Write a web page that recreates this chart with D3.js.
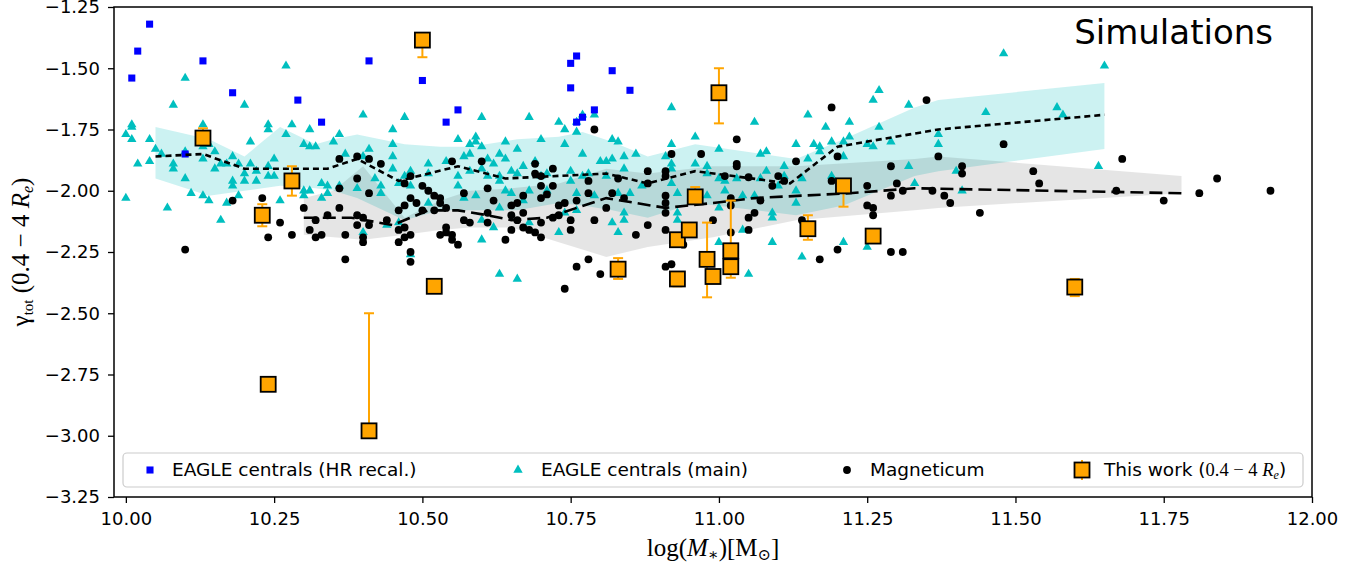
<!DOCTYPE html>
<meta charset="utf-8">
<style>
body { margin: 0; background: #fff; }
text { font-family: "DejaVu Sans", sans-serif; fill: #000; }
.tick text { font-size: 18px; }
.serif { font-family: "Liberation Serif", "DejaVu Serif", serif; }
</style>
<svg width="1365" height="570"></svg>
<script src="https://d3js.org/d3.v7.min.js"></script>
<script>

// EAGLE centrals, high-res recalibrated  [log M*, gamma]
var eagleHR = [[10.01,-1.54],[10.02,-1.43],[10.04,-1.32],[10.13,-1.47],[10.18,-1.60],[10.29,-1.63],[10.33,-1.72],
  [10.41,-1.47],[10.50,-1.55],[10.54,-1.72],[10.56,-1.67],[10.75,-1.48],[10.76,-1.45],[10.75,-1.58],[10.82,-1.51],
  [10.85,-1.59],[10.79,-1.67],[10.77,-1.70],[10.76,-1.72],[10.10,-1.85]];

// EAGLE centrals, main run
var eagleMain = [[10.27,-1.49],[10.10,-1.54],[10.08,-1.65],[10.20,-1.65],[10.01,-1.73],[10.01,-1.74],[10.00,-1.77],
  [10.01,-1.79],[10.04,-1.79],[10.13,-1.73],[10.24,-1.73],[10.24,-1.75],[10.28,-1.73],[10.27,-1.77],[10.30,-1.81],
  [10.31,-1.75],[10.31,-1.82],[10.21,-1.80],[10.05,-1.83],[10.06,-1.85],[10.10,-1.84],[10.13,-1.87],[10.15,-1.84],
  [10.02,-1.89],[10.04,-1.88],[10.08,-1.89],[10.08,-1.91],[10.15,-1.91],[10.16,-1.89],[10.17,-1.89],[10.18,-1.86],
  [10.19,-1.89],[10.20,-1.93],[10.21,-1.89],[10.22,-1.92],[10.25,-1.87],[10.24,-1.90],[10.24,-1.94],[10.25,-1.94],
  [10.22,-1.96],[10.20,-1.96],[10.18,-1.96],[10.18,-1.98],[10.10,-1.95],[10.11,-2.01],[10.13,-2.02],[10.14,-2.04],
  [10.17,-2.05],[10.19,-2.02],[10.26,-2.04],[10.30,-2.00],[10.31,-2.00],[10.30,-2.02],[10.00,-2.03],[10.07,-2.07],
  [10.16,-2.12],[10.13,-1.82],[10.14,-1.81],
  [10.40,-1.69],[10.47,-1.70],[10.45,-1.75],[10.60,-1.70],[10.36,-1.77],[10.35,-1.80],[10.32,-1.82],[10.37,-1.85],
  [10.41,-1.83],[10.45,-1.81],[10.45,-1.86],[10.45,-1.91],[10.48,-1.92],[10.51,-1.89],[10.51,-1.93],[10.47,-1.94],
  [10.48,-1.98],[10.46,-1.97],[10.43,-1.98],[10.43,-2.01],[10.39,-1.99],[10.36,-1.98],[10.34,-1.98],[10.33,-1.97],
  [10.34,-2.01],[10.33,-2.03],[10.42,-1.95],[10.40,-1.86],[10.56,-1.79],[10.59,-1.78],[10.59,-1.80],[10.58,-1.81],
  [10.60,-1.82],[10.64,-1.80],[10.57,-1.86],[10.58,-1.85],[10.56,-1.94],[10.58,-1.92],[10.60,-1.91],[10.61,-1.87],
  [10.63,-1.85],[10.62,-1.89],[10.64,-1.87],[10.65,-1.92],[10.63,-1.94],[10.63,-1.96],[10.61,-1.94],[10.56,-1.98],
  [10.57,-2.03],[10.59,-2.02],[10.64,-2.00],[10.65,-2.01],[10.63,-2.07],[10.62,-2.15],[10.60,-2.12],[10.60,-2.20],
  [10.63,-2.34],[10.54,-1.88],[10.51,-2.05],[10.46,-2.13],[10.44,-2.14],[10.40,-2.17],[10.48,-2.26],
  [10.68,-1.70],[10.73,-1.72],[10.74,-1.75],[10.76,-1.76],[10.77,-1.69],[10.79,-1.69],[10.76,-1.72],[10.70,-1.79],
  [10.74,-1.81],[10.66,-1.83],[10.77,-1.85],[10.82,-1.79],[10.83,-1.80],[10.92,-1.66],[10.96,-1.78],[10.92,-1.81],
  [10.86,-1.85],[10.84,-1.86],[10.80,-1.88],[10.81,-1.88],[10.82,-1.87],[10.84,-1.91],[10.81,-1.94],[10.78,-1.93],
  [10.77,-1.94],[10.75,-1.92],[10.75,-1.96],[10.71,-1.93],[10.67,-1.90],[10.66,-1.93],[10.69,-1.88],[10.92,-1.89],
  [10.91,-1.86],[10.92,-1.91],[10.96,-1.89],[10.98,-1.90],[10.98,-1.93],[10.92,-1.97],[10.93,-2.01],[10.98,-2.02],
  [10.87,-1.98],[10.85,-2.01],[10.83,-2.01],[10.76,-2.01],[10.79,-2.02],[10.76,-2.08],[10.74,-2.09],[10.84,-2.09],
  [10.82,-2.13],[10.84,-2.12],[10.83,-2.17],[10.73,-2.17],[10.68,-2.13],[10.67,-2.04],[10.93,-2.12],[10.93,-2.09],
  [10.66,-2.36],[10.68,-2.00],[10.71,-2.00],[10.70,-1.94],
  [11.06,-1.72],[11.15,-1.69],[11.18,-1.74],[11.22,-1.72],[11.27,-1.59],[11.26,-1.63],[11.32,-1.65],[11.27,-1.74],
  [11.22,-1.78],[11.19,-1.80],[11.16,-1.81],[11.13,-1.81],[11.17,-1.82],[11.17,-1.84],[11.21,-1.80],[11.21,-1.86],
  [11.25,-1.81],[11.26,-1.82],[11.29,-1.80],[11.00,-1.83],[11.07,-1.85],[11.08,-1.84],[11.15,-1.87],[11.11,-1.90],
  [11.08,-1.92],[11.07,-1.95],[11.01,-1.96],[11.00,-1.95],[11.03,-1.95],[11.11,-1.94],[11.10,-1.98],[11.14,-1.95],
  [11.19,-1.94],[11.32,-1.90],[11.01,-2.00],[11.04,-2.02],[11.06,-2.02],[11.13,-2.00],[11.13,-2.05],[11.00,-2.07],
  [11.09,-2.09],[11.09,-2.11],[11.04,-2.16],[11.00,-2.21],[11.09,-2.21],[11.14,-2.27],[11.21,-2.21],[11.25,-2.23],
  [11.05,-2.34],
  [11.48,-1.44],[11.65,-1.49],[11.45,-1.68],[11.57,-1.66],[11.58,-1.69],[11.37,-1.77],[11.37,-1.81],[11.64,-1.90],
  [11.40,-1.92],[11.33,-1.97],[11.41,-2.00]];

// Magneticum
var magneticum = [[10.10,-2.24],[10.18,-2.04],[10.23,-2.03],[10.26,-2.13],[10.24,-2.19],[10.28,-2.18],[10.30,-2.07],
  [10.31,-2.16],
  [10.36,-1.87],[10.39,-1.86],[10.41,-1.87],[10.43,-1.89],[10.39,-1.95],[10.36,-1.99],[10.41,-2.01],[10.47,-1.97],
  [10.48,-1.94],[10.50,-1.98],[10.51,-2.00],[10.52,-2.02],[10.53,-2.03],[10.53,-2.05],[10.48,-2.03],[10.46,-2.08],
  [10.47,-2.06],[10.49,-2.05],[10.50,-2.08],[10.52,-2.08],[10.54,-2.07],[10.55,-1.88],[10.60,-1.88],[10.61,-1.99],
  [10.62,-2.04],[10.57,-2.01],[10.65,-2.06],[10.65,-2.10],[10.61,-2.09],[10.61,-2.13],[10.57,-2.12],[10.58,-2.13],
  [10.32,-2.12],[10.34,-2.10],[10.36,-2.07],[10.39,-2.10],[10.40,-2.11],[10.39,-2.14],[10.41,-2.14],[10.44,-2.12],
  [10.46,-2.16],[10.47,-2.15],[10.46,-2.21],[10.47,-2.19],[10.48,-2.18],[10.40,-2.19],[10.40,-2.21],[10.37,-2.18],
  [10.32,-2.19],[10.33,-2.18],[10.37,-2.28],[10.48,-2.25],[10.48,-2.29],[10.54,-2.15],[10.54,-2.17],[10.53,-2.18],
  [10.55,-2.18],[10.55,-2.20],[10.56,-2.22],[10.64,-2.20],[10.65,-2.16],
  [10.79,-1.75],[10.92,-1.85],[10.97,-1.85],[10.69,-1.89],[10.69,-1.93],[10.72,-1.91],[10.70,-1.94],[10.70,-1.98],
  [10.72,-1.98],[10.78,-1.96],[10.83,-1.95],[10.88,-1.92],[10.91,-1.92],[10.91,-1.94],[10.88,-1.97],[10.91,-2.02],
  [10.78,-2.01],[10.82,-2.01],[10.84,-2.03],[10.76,-2.04],[10.74,-2.05],[10.73,-2.06],[10.71,-2.015],[10.70,-2.03],
  [10.67,-2.02],[10.66,-2.05],[10.67,-2.09],[10.66,-2.12],[10.67,-2.15],[10.68,-2.16],[10.69,-2.17],[10.70,-2.19],
  [10.70,-2.13],[10.72,-2.11],[10.73,-2.10],[10.75,-2.12],[10.75,-2.16],[10.79,-2.12],[10.81,-2.07],[10.91,-2.05],
  [10.91,-2.09],[10.88,-2.14],[10.91,-2.16],[10.86,-2.18],[10.76,-2.31],[10.78,-2.28],[10.80,-2.34],[10.74,-2.40],
  [10.91,-2.31],[10.92,-2.30],[10.94,-2.22],[10.99,-2.12],
  [11.19,-1.66],[11.03,-1.79],[11.03,-1.89],[11.03,-1.90],[11.13,-1.88],[11.20,-1.86],[11.29,-1.90],[11.01,-1.94],
  [11.05,-1.945],[11.10,-1.94],[11.11,-1.96],[11.09,-1.98],[11.19,-1.96],[11.25,-1.98],[11.30,-1.97],[11.31,-2.00],
  [11.29,-2.02],[11.02,-2.03],[11.02,-2.06],[11.07,-2.04],[11.06,-2.09],[11.05,-2.11],[11.05,-2.16],[11.14,-2.12],
  [11.25,-2.06],[11.26,-2.07],[11.26,-2.10],[11.02,-2.17],[11.17,-2.28],[11.20,-2.24],[11.29,-2.25],[11.31,-2.25],
  [11.35,-1.63],[11.48,-1.81],[11.37,-1.86],[11.41,-1.90],[11.41,-1.93],[11.53,-1.92],[11.54,-1.97],[11.36,-2.00],
  [11.38,-2.02],[11.39,-2.05],[11.44,-2.09],[11.67,-2.00],[11.68,-1.87],[11.75,-2.04],[11.81,-2.01],[11.84,-1.95],
  [11.93,-2.00]];

// EAGLE main: running median and 16-84 band
var eagleMedX = [10.05,10.13,10.20,10.26,10.34,10.39,10.46,10.56,10.64,10.81,10.88,10.96,11.12,11.20,11.37,11.65];
var eagleMedY = [-1.86,-1.85,-1.91,-1.91,-1.91,-1.87,-1.96,-1.90,-1.95,-1.93,-1.97,-1.92,-1.97,-1.82,-1.75,-1.69];
var eagleBandX  = [10.05,10.14,10.20,10.26,10.32,10.35,10.39,10.47,10.53,10.58,10.66,10.73,10.77,10.82,10.88,10.96,11.13,11.21,11.33,11.37,11.65];
var eagleBandHi = [-1.74,-1.79,-1.86,-1.74,-1.81,-1.79,-1.77,-1.81,-1.82,-1.82,-1.79,-1.78,-1.76,-1.80,-1.86,-1.81,-1.87,-1.79,-1.66,-1.63,-1.56];
var eagleBandLo = [-1.95,-2.02,-2.00,-1.98,-1.99,-2.00,-2.03,-2.12,-2.08,-2.08,-2.08,-2.05,-2.06,-2.08,-2.11,-2.05,-2.10,-2.06,-1.94,-1.92,-1.83];

// Magneticum: running median and 16-84 band
var magMedX = [10.30,10.38,10.45,10.51,10.56,10.61,10.65,10.71,10.81,10.91,10.99,11.06,11.22,11.33,11.78];
var magMedY = [-2.11,-2.11,-2.14,-2.08,-2.08,-2.10,-2.12,-2.11,-2.03,-2.07,-2.05,-2.03,-2.01,-1.99,-2.01];
var magBandX  = [10.30,10.35,10.40,10.47,10.53,10.58,10.65,10.73,10.81,10.88,10.99,11.13,11.33,11.37,11.78];
var magBandHi = [-2.03,-2.00,-1.90,-2.11,-2.04,-2.00,-1.99,-1.97,-1.91,-1.93,-1.90,-1.90,-1.87,-1.86,-1.94];
var magBandLo = [-2.18,-2.19,-2.20,-2.18,-2.16,-2.15,-2.15,-2.21,-2.27,-2.23,-2.19,-2.12,-2.08,-2.07,-2.01];

// This work (0.4 - 4 Re): value with lower / upper bound
var workX  = [10.13,10.23,10.28,10.24,10.41,10.50,10.52,10.83,10.93,10.93,10.95,10.96,11.00,10.98,10.99,11.02,11.02,11.21,11.15,11.26,11.60];
var workY  = [-1.785,-2.10,-1.96,-2.79,-2.98,-1.385,-2.39,-2.32,-2.36,-2.20,-2.16,-2.025,-1.60,-2.28,-2.35,-2.245,-2.31,-1.98,-2.155,-2.185,-2.393];
var workLo = [-1.80,-2.145,-2.02,-2.79,-2.98,-1.455,-2.41,-2.36,-2.39,-2.22,-2.18,-2.05,-1.725,-2.435,-2.37,-2.26,-2.355,-2.065,-2.20,-2.21,-2.43];
var workHi = [-1.745,-2.055,-1.90,-2.79,-2.50,-1.37,-2.37,-2.275,-2.34,-2.18,-2.14,-1.985,-1.50,-2.13,-2.33,-2.04,-2.29,-1.96,-2.10,-2.16,-2.36];

var xTicks = [10, 10.25, 10.5, 10.75, 11, 11.25, 11.5, 11.75, 12];
var yTicks = [-3.25, -3, -2.75, -2.5, -2.25, -2, -1.75, -1.5, -1.25];

var cyan = "#00bfbf", orange = "#ffa500";

var svg = d3.select("svg"),
    margin = {top: 7, right: 53, bottom: 73, left: 114},
    width = +svg.attr("width") - margin.left - margin.right,
    height = +svg.attr("height") - margin.top - margin.bottom;

var x = d3.scaleLinear().domain([9.98, 12]).range([margin.left, margin.left + width]);
var y = d3.scaleLinear().domain([-3.25, -1.25]).range([margin.top + height, margin.top]);

svg.append("clipPath").attr("id", "clip")
  .append("rect").attr("x", margin.left).attr("y", margin.top).attr("width", width).attr("height", height);

var plot = svg.append("g").attr("clip-path", "url(#clip)");

var area = d3.area()
    .x(function(d) { return x(d[0]); })
    .y0(function(d) { return y(d[1]); })
    .y1(function(d) { return y(d[2]); });

plot.append("path")
    .datum(eagleBandX.map(function(v, i) { return [v, eagleBandLo[i], eagleBandHi[i]]; }))
    .attr("d", area).attr("fill", cyan).attr("fill-opacity", 0.2);

plot.append("path")
    .datum(magBandX.map(function(v, i) { return [v, magBandLo[i], magBandHi[i]]; }))
    .attr("d", area).attr("fill", "#000").attr("fill-opacity", 0.1);

var tri = d3.symbol(d3.symbolTriangle, 38),
    sq = d3.symbol(d3.symbolSquare, 50),
    dot = d3.symbol(d3.symbolCircle, 48);

plot.append("g").selectAll("path")
  .data(eagleMain)
  .enter().append("path")
    .attr("d", tri)
    .attr("transform", function(d) { return "translate(" + x(d[0]) + "," + y(d[1]) + ")"; })
    .attr("fill", cyan);

plot.append("g").selectAll("path")
  .data(eagleHR)
  .enter().append("path")
    .attr("d", sq)
    .attr("transform", function(d) { return "translate(" + x(d[0]) + "," + y(d[1]) + ")"; })
    .attr("fill", "#0000ff");

plot.append("g").selectAll("path")
  .data(magneticum)
  .enter().append("path")
    .attr("d", dot)
    .attr("transform", function(d) { return "translate(" + x(d[0]) + "," + y(d[1]) + ")"; })
    .attr("fill", "#000");

var line = d3.line()
    .x(function(d) { return x(d[0]); })
    .y(function(d) { return y(d[1]); });

plot.append("path")
    .datum(eagleMedX.map(function(v, i) { return [v, eagleMedY[i]]; }))
    .attr("d", line).attr("fill", "none").attr("stroke", "#000")
    .attr("stroke-width", 2.6).attr("stroke-dasharray", "6,4");

plot.append("path")
    .datum(magMedX.map(function(v, i) { return [v, magMedY[i]]; }))
    .attr("d", line).attr("fill", "none").attr("stroke", "#000")
    .attr("stroke-width", 2.6).attr("stroke-dasharray", "13,6");

// this work: error bars then squares
var work = workX.map(function(v, i) { return {x: v, y: workY[i], lo: workLo[i], hi: workHi[i]}; });

var eb = plot.append("g").attr("stroke", orange).attr("stroke-width", 2);
work.forEach(function(d) {
  if (d.lo === d.hi) return;
  var cx = x(d.x);
  eb.append("line").attr("x1", cx).attr("x2", cx).attr("y1", y(d.lo)).attr("y2", y(d.hi));
  eb.append("line").attr("x1", cx - 5).attr("x2", cx + 5).attr("y1", y(d.lo)).attr("y2", y(d.lo));
  eb.append("line").attr("x1", cx - 5).attr("x2", cx + 5).attr("y1", y(d.hi)).attr("y2", y(d.hi));
});

plot.append("g").selectAll("rect")
  .data(work)
  .enter().append("rect")
    .attr("x", function(d) { return x(d.x) - 7.5; })
    .attr("y", function(d) { return y(d.y) - 7.5; })
    .attr("width", 15).attr("height", 15)
    .attr("fill", orange).attr("stroke", "#000").attr("stroke-width", 1.8);

// axes
svg.append("g")
    .attr("transform", "translate(0," + (margin.top + height) + ")")
    .call(d3.axisBottom(x).tickValues(xTicks).tickFormat(d3.format(".2f")).tickSize(6).tickSizeOuter(0).tickPadding(9));
svg.append("g")
    .attr("transform", "translate(" + margin.left + ",0)")
    .call(d3.axisLeft(y).tickValues(yTicks).tickFormat(d3.format(".2f")).tickSize(6).tickSizeOuter(0).tickPadding(8));
svg.selectAll(".domain").remove();
svg.selectAll(".tick line").attr("stroke", "#000").attr("stroke-width", 1.3);
svg.selectAll(".tick text").style("font-family", "'DejaVu Sans', sans-serif");

svg.append("rect")
    .attr("x", margin.left).attr("y", margin.top)
    .attr("width", width).attr("height", height)
    .attr("fill", "none").attr("stroke", "#000").attr("stroke-width", 1.5);

// title
svg.append("text")
    .attr("x", 1273).attr("y", 44)
    .attr("text-anchor", "end")
    .style("font-size", "34px")
    .text("Simulations");

// x label
var xl = svg.append("text").attr("class", "serif")
    .attr("x", margin.left + width / 2).attr("y", 556)
    .attr("text-anchor", "middle").style("font-size", "25px");
xl.append("tspan").text("log(");
xl.append("tspan").style("font-style", "italic").text("M");
xl.append("tspan").attr("baseline-shift", "-25%").style("font-size", "16px").text("∗");
xl.append("tspan").text(")[M");
xl.append("tspan").attr("baseline-shift", "-25%").style("font-size", "16px").text("⊙");
xl.append("tspan").text("]");

// y label
var yl = svg.append("text").attr("class", "serif")
    .attr("transform", "translate(29," + (margin.top + height / 2) + ") rotate(-90)")
    .attr("text-anchor", "middle").style("font-size", "25px");
yl.append("tspan").text("γ");
yl.append("tspan").attr("baseline-shift", "-25%").style("font-size", "15px").text("tot");
yl.append("tspan").text(" (0.4 − 4 ");
yl.append("tspan").style("font-style", "italic").text("R");
yl.append("tspan").attr("baseline-shift", "-25%").style("font-size", "16px").style("font-style", "italic").text("e");
yl.append("tspan").text(")");

// legend
var lg = svg.append("g");
lg.append("rect")
    .attr("x", 123).attr("y", 453).attr("width", 1180).attr("height", 34).attr("rx", 4)
    .attr("fill", "#fff").attr("fill-opacity", 0.8).attr("stroke", "#cccccc").attr("stroke-width", 1.2);

var ly = 470;
lg.append("path").attr("d", sq).attr("transform", "translate(150," + ly + ")").attr("fill", "#0000ff");
lg.append("path").attr("d", tri).attr("transform", "translate(518," + ly + ")").attr("fill", cyan);
lg.append("path").attr("d", dot).attr("transform", "translate(847," + ly + ")").attr("fill", "#000");
lg.append("line").attr("x1", 1082).attr("x2", 1082).attr("y1", ly - 10).attr("y2", ly + 10)
    .attr("stroke", orange).attr("stroke-width", 2);
lg.append("rect").attr("x", 1082 - 7.5).attr("y", ly - 7.5).attr("width", 15).attr("height", 15)
    .attr("fill", orange).attr("stroke", "#000").attr("stroke-width", 1.8);

var legendText = [[172, "EAGLE centrals (HR recal.)"], [541, "EAGLE centrals (main)"], [870, "Magneticum"]];
legendText.forEach(function(t) {
  lg.append("text").attr("x", t[0]).attr("y", ly).attr("dy", "0.35em")
    .style("font-size", "18.5px").text(t[1]);
});
var lw = lg.append("text").attr("x", 1104).attr("y", ly).attr("dy", "0.35em").style("font-size", "18.5px");
lw.append("tspan").text("This work (");
lw.append("tspan").style("font-family", "'Liberation Serif', serif").text("0.4 − 4 ");
lw.append("tspan").style("font-family", "'Liberation Serif', serif").style("font-style", "italic").text("R");
lw.append("tspan").style("font-family", "'Liberation Serif', serif").style("font-style", "italic")
    .attr("baseline-shift", "-25%").style("font-size", "12px").text("e");
lw.append("tspan").text(")");

</script>
